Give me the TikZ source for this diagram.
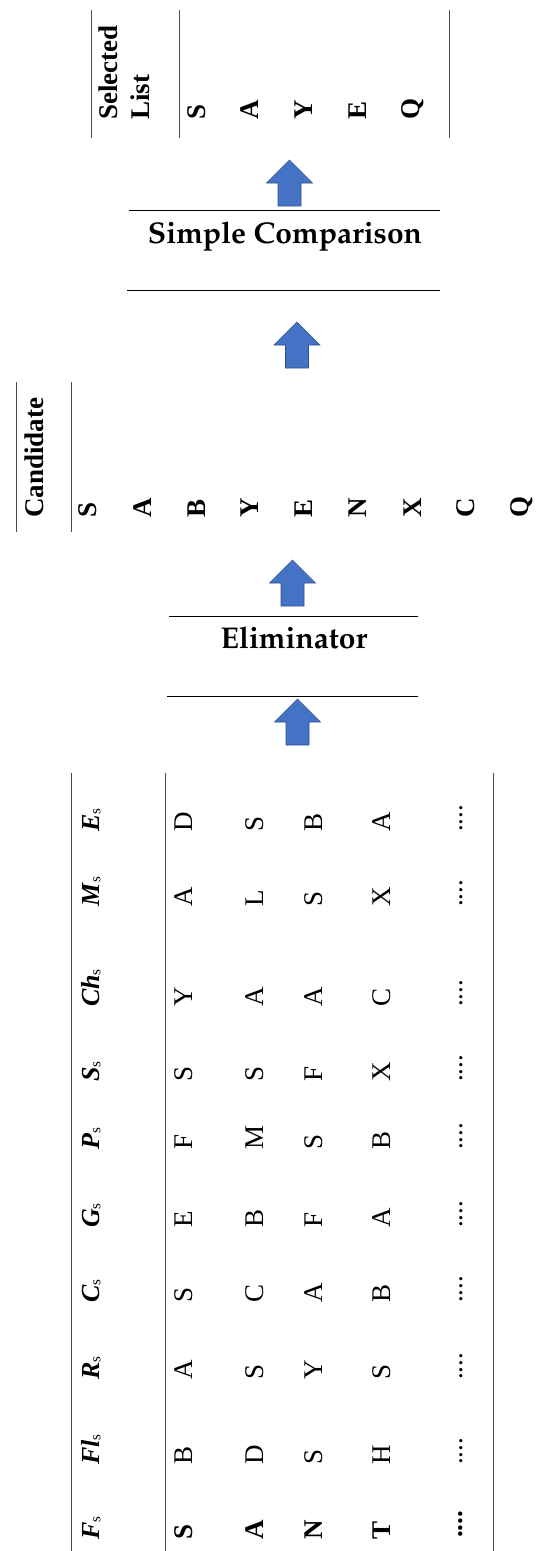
\documentclass[tikz,border=0pt]{standalone}
\usepackage[T1]{fontenc}
\usepackage{fontspec}
\setmainfont{Liberation Serif}
\newcommand\palbold{\fontencoding{T1}\fontfamily{ppl}\fontseries{b}\fontshape{n}\selectfont}
\newcommand\hdr[1]{\textbf{\textit{#1}}\raisebox{-0.12ex}{\fontsize{15}{15}\selectfont s}}
\definecolor{arrowblue}{HTML}{4472C4}
\definecolor{arrowedge}{HTML}{2F528F}
\tikzset{
  rule/.style={line width=1pt, draw=black!70},
  cell/.style={rotate=90, anchor=base west, inner sep=0pt, font=\fontsize{27}{27}\selectfont},
  bcell/.style={rotate=90, anchor=base west, inner sep=0pt, font=\bfseries\fontsize{27}{27}\selectfont},
  hcell/.style={rotate=90, anchor=base west, inner sep=0pt, font=\fontsize{26}{26}\selectfont},
  stagetitle/.style={inner sep=0pt, anchor=base, font=\palbold\fontsize{30}{30}\selectfont},
  blockarrow/.pic={\draw[fill=arrowblue, draw=arrowedge, line width=0.6pt]
    (0,-23) -- (23,0) -- (11.5,0) -- (11.5,23) -- (-11.5,23) -- (-11.5,0) -- (-23,0) -- cycle;}
}
\begin{document}
\begin{tikzpicture}[x=1pt,y=-1pt]
\fill[white] (0,0) rectangle (547,1551);
\useasboundingbox (0,0) rectangle (547,1551);

% ---------- Selected List ----------
\draw[rule] (91,10) -- (91,138);
\draw[rule] (179,10) -- (179,138);
\draw[rule] (449,10) -- (449,138);
\node[bcell] (selA) at (117,120) {Selected};
\node[bcell] (selB) at (149,120) {List};
\foreach \t/\x [count=\i] in {S/205,A/258,Y/312,E/366,Q/419}
  \node[bcell] (sel\i) at (\x,120) {\t};

% ---------- arrows and stages ----------
\pic at (289.5,183) {blockarrow};
\draw[rule, draw=black] (129,210) -- (440,210);
\node[stagetitle] (simple) at (285,243) {Simple Comparison};
\draw[rule, draw=black] (127,290) -- (440,290);
\pic at (297,345) {blockarrow};

% ---------- Candidate ----------
\draw[rule] (16,382) -- (16,532);
\draw[rule] (71,382) -- (71,532);
\node[bcell] (cand) at (43,518) {Candidate};
\foreach \t/\x [count=\i] in {S/96,A/151,B/205,Y/258,E/312,N/366,X/421,C/474,Q/528}
  \node[bcell] (cand\i) at (\x,518) {\t};

\pic at (292.5,583) {blockarrow};
\draw[rule, draw=black] (169,616) -- (418,616);
\node[stagetitle] (elim) at (294,648) {Eliminator};
\draw[rule, draw=black] (167,696) -- (418,696);
\pic at (297.5,722) {blockarrow};

% ---------- main table ----------
\draw[rule] (71,773) -- (71,1551);
\draw[rule] (165,773) -- (165,1551);
\draw[rule] (493,773) -- (493,1551);

\foreach \h/\y [count=\c] in {F/1540,Fl/1465,R/1380,C/1303,G/1228,P/1150,S/1082,Ch/1007,M/907,E/832}
  \node[hcell] (h\c) at (99,\y) {\hdr{\h}};

\foreach \a/\b/\cc/\d/\e/\f/\g/\h/\ii/\j/\x [count=\r] in {
  S/B/A/S/E/F/S/Y/A/D/192,
  A/D/S/C/B/M/S/A/L/S/263,
  N/S/Y/A/F/S/F/A/S/B/322,
  T/H/S/B/A/B/X/C/X/A/390}{
  \node[bcell] (c\r-1) at (\x,1540) {\a};
  \node[cell] (c\r-2) at (\x,1465) {\b};
  \node[cell] (c\r-3) at (\x,1380) {\cc};
  \node[cell] (c\r-4) at (\x,1303) {\d};
  \node[cell] (c\r-5) at (\x,1228) {\e};
  \node[cell] (c\r-6) at (\x,1150) {\f};
  \node[cell] (c\r-7) at (\x,1082) {\g};
  \node[cell] (c\r-8) at (\x,1007) {\h};
  \node[cell] (c\r-9) at (\x,907) {\ii};
  \node[cell] (c\r-10) at (\x,832) {\j};
}
\node[bcell] (d1) at (462,1538) {....};
\foreach \y [count=\c from 2] in {1465,1380,1303,1228,1150,1082,1007,907,832}
  \node[cell] (d\c) at (462,\y) {....};
\end{tikzpicture}
\end{document}
